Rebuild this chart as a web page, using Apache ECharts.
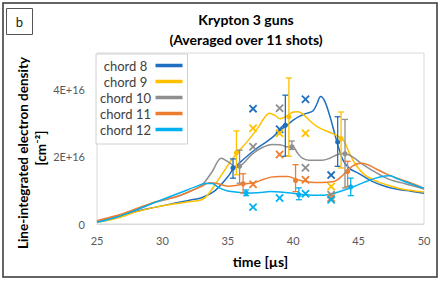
<!DOCTYPE html>
<html><head><meta charset="utf-8">
<script src="https://cdn.jsdelivr.net/npm/echarts@6/dist/echarts.min.js"></script>
<style>html,body{margin:0;padding:0;background:#fff}#c{width:443px;height:281px}</style>
</head><body><div id="c"></div>
<script>
// ---- data (values in units of 1E+16 cm^-2, time in µs) ----
const seriesNames = ['chord 8', 'chord 9', 'chord 10', 'chord 11', 'chord 12'];
const xTicks = [25, 30, 35, 40, 45, 50];
const yTicks = [0, 2, 4];

const chord8T = [25, 26.5, 28, 29.5, 31, 32, 33, 34, 35, 35.4, 36, 37, 38, 38.5, 39, 39.5, 40, 40.5, 41, 41.5, 41.8, 42.1, 42.4, 42.8, 43.3, 43.8, 44.3, 45, 46, 47, 48, 49, 50];
const chord8V = [0.07, 0.2, 0.38, 0.5, 0.62, 0.7, 0.78, 0.98, 1.4, 1.62, 1.85, 2.18, 2.45, 2.6, 2.78, 2.92, 3.08, 3.2, 3.28, 3.35, 3.55, 3.78, 3.65, 3.2, 2.5, 1.9, 1.65, 1.5, 1.27, 1.12, 1.03, 0.97, 0.91];

const chord9T = [25, 26.5, 28, 29.5, 31, 32, 33, 33.5, 34, 34.6, 35.2, 35.7, 36.5, 37.3, 37.8, 38.2, 38.6, 39, 39.5, 40, 40.4, 40.9, 41.5, 42, 43, 43.5, 43.9, 44.3, 44.8, 45.5, 46.5, 47.5, 48.5, 49.3, 50];
const chord9V = [0.05, 0.17, 0.36, 0.5, 0.6, 0.66, 0.72, 0.88, 1.15, 1.5, 1.85, 2.1, 2.45, 2.85, 3.15, 3.28, 3.22, 3.12, 3.2, 3.32, 3.33, 3.2, 2.98, 2.85, 2.68, 2.58, 2.45, 2.1, 1.75, 1.45, 1.25, 1.12, 1.02, 0.98, 0.95];

const chord10T = [25, 26.5, 28, 29.5, 31, 32, 33, 33.8, 34.5, 35, 35.7, 36.2, 36.8, 37.6, 38.4, 39, 39.6, 40, 40.3, 40.7, 41.2, 42.2, 42.8, 43.4, 43.9, 44.5, 45.2, 46, 46.8, 47.5, 48.3, 49, 50];
const chord10V = [0.08, 0.22, 0.42, 0.65, 0.8, 0.95, 1.15, 1.55, 1.95, 1.85, 1.69, 1.8, 2.05, 2.26, 2.36, 2.35, 2.28, 2.29, 2.12, 1.95, 1.89, 1.89, 1.95, 2.06, 2.09, 2.0, 1.8, 1.6, 1.42, 1.3, 1.22, 1.15, 1.04];

const chord11T = [25, 26.5, 28, 29.5, 31, 32, 33, 33.6, 34.2, 35, 35.6, 36.2, 37, 37.7, 38.3, 39, 39.6, 40.2, 40.8, 41.8, 42.6, 43.2, 43.8, 44.3, 44.8, 45.3, 45.8, 46.5, 47.2, 48, 48.8, 49.5, 50];
const chord11V = [0.1, 0.25, 0.45, 0.66, 0.8, 0.95, 1.12, 1.22, 1.2, 1.12, 1.14, 1.19, 1.22, 1.32, 1.39, 1.41, 1.41, 1.33, 1.27, 1.23, 1.24, 1.27, 1.45, 1.65, 1.77, 1.8, 1.74, 1.6, 1.47, 1.35, 1.25, 1.14, 1.05];

const chord12T = [25, 26.5, 28, 29.5, 30.5, 31.5, 32.5, 33.3, 33.8, 34.3, 35, 35.8, 36.5, 37.3, 38.3, 39, 39.8, 40.5, 41.5, 42.5, 43.2, 44, 44.7, 45.5, 46.3, 47, 47.4, 47.8, 48.5, 49.2, 50];
const chord12V = [0.05, 0.2, 0.42, 0.65, 0.8, 0.95, 1.1, 1.2, 1.2, 1.08, 0.98, 0.94, 0.92, 0.93, 0.96, 0.95, 0.92, 0.88, 0.85, 0.86, 0.92, 1.02, 1.12, 1.25, 1.36, 1.42, 1.43, 1.37, 1.26, 1.16, 1.06];

// error-bar points: time, value, low, high
const chord8ErrT = [35.4, 39.4, 43.4];
const chord8ErrV = [1.66, 2.93, 2.43];
const chord8ErrLo = [1.36, 2.01, 1.71];
const chord8ErrHi = [1.93, 3.82, 3.18];

const chord9ErrT = [35.66, 39.67, 43.66];
const chord9ErrV = [2.11, 3.18, 2.53];
const chord9ErrLo = [1.46, 2.01, 1.66];
const chord9ErrHi = [2.76, 4.33, 3.32];

const chord10ErrT = [35.9, 39.9, 43.96];
const chord10ErrV = [1.71, 2.29, 2.08];
const chord10ErrLo = [1.21, 2.21, 1.07];
const chord10ErrHi = [2.19, 2.46, 3.1];

const chord11ErrT = [36.17, 40.18, 44.16];
const chord11ErrV = [1.19, 1.29, 1.56];
const chord11ErrLo = [0.92, 0.96, 1.11];
const chord11ErrHi = [1.49, 1.76, 1.86];

const chord12ErrT = [36.4, 40.43, 44.4];
const chord12ErrV = [0.92, 0.87, 1.1];
const chord12ErrLo = [0.84, 0.72, 0.84];
const chord12ErrHi = [1.01, 1.07, 1.36];

// single-shot cross markers
const crossT = [36.93, 38.96, 40.94, 42.9];
const chord8X = [3.42, 2.81, 3.7, 1.45];
const chord9X = [2.84, 2.69, 2.69, 1.11];
const chord10X = [2.29, 3.43, 1.67, 0.87];
const chord11X = [1.18, 2.06, 1.31, 0.77];
const chord12X = [0.5, 0.77, 0.9, 0.72];

// ---- build ----
const colors = ['#1F6FC0', '#FFC000', '#8F8F8F', '#ED7D31', '#00B0F0'];
const lineT = [chord8T, chord9T, chord10T, chord11T, chord12T];
const lineV = [chord8V, chord9V, chord10V, chord11V, chord12V];
const errT = [chord8ErrT, chord9ErrT, chord10ErrT, chord11ErrT, chord12ErrT];
const errV = [chord8ErrV, chord9ErrV, chord10ErrV, chord11ErrV, chord12ErrV];
const errLo = [chord8ErrLo, chord9ErrLo, chord10ErrLo, chord11ErrLo, chord12ErrLo];
const errHi = [chord8ErrHi, chord9ErrHi, chord10ErrHi, chord11ErrHi, chord12ErrHi];
const crossV = [chord8X, chord9X, chord10X, chord11X, chord12X];

const FONT = 'Lato, "Open Sans", sans-serif';
const series = [];
seriesNames.forEach((name, k) => {
  series.push({
    name, type: 'line', smooth: 0.35, showSymbol: false, z: 2,
    lineStyle: { width: 1.5, color: colors[k] }, itemStyle: { color: colors[k] },
    data: lineT[k].map((t, i) => [t, lineV[k][i]])
  });
});
seriesNames.forEach((name, k) => {
  series.push({
    name, type: 'custom', z: 4, itemStyle: { color: colors[k] },
    data: errT[k].map((t, i) => [t, errV[k][i], errLo[k][i], errHi[k][i]]),
    renderItem: (params, api) => {
      const p = api.coord([api.value(0), api.value(1)]);
      const lo = api.coord([api.value(0), api.value(2)]);
      const hi = api.coord([api.value(0), api.value(3)]);
      const st = { stroke: colors[k], lineWidth: 1.3 };
      return { type: 'group', children: [
        { type: 'line', shape: { x1: lo[0], y1: lo[1], x2: hi[0], y2: hi[1] }, style: st },
        { type: 'line', shape: { x1: lo[0] - 3, y1: lo[1], x2: lo[0] + 3, y2: lo[1] }, style: st },
        { type: 'line', shape: { x1: hi[0] - 3, y1: hi[1], x2: hi[0] + 3, y2: hi[1] }, style: st },
        { type: 'circle', shape: { cx: p[0], cy: p[1], r: 2.6 }, style: { fill: colors[k] } }
      ]};
    }
  });
  series.push({
    name, type: 'custom', z: 3, itemStyle: { color: colors[k] },
    data: crossT.map((t, i) => [t, crossV[k][i]]),
    renderItem: (params, api) => {
      const p = api.coord([api.value(0), api.value(1)]);
      const d = 3.6;
      const st = { stroke: colors[k], lineWidth: 1.8 };
      return { type: 'group', children: [
        { type: 'line', shape: { x1: p[0] - d, y1: p[1] - d, x2: p[0] + d, y2: p[1] + d }, style: st },
        { type: 'line', shape: { x1: p[0] - d, y1: p[1] + d, x2: p[0] + d, y2: p[1] - d }, style: st }
      ]};
    }
  });
});

const chart = echarts.init(document.getElementById('c'), null, { renderer: 'svg' });
chart.setOption({
  animation: false,
  color: colors,
  textStyle: { fontFamily: FONT },
  grid: { left: 97, right: 19, top: 53, bottom: 57, show: true, borderColor: '#d9d9d9', borderWidth: 1, backgroundColor: '#fff' },
  xAxis: {
    type: 'value', min: xTicks[0], max: xTicks[xTicks.length - 1], interval: 5,
    name: 'time [µs]', nameLocation: 'middle', nameGap: 30,
    nameTextStyle: { fontFamily: FONT, fontWeight: 'bold', fontSize: 14, color: '#000' },
    axisLine: { show: true, lineStyle: { color: '#d9d9d9' } }, axisTick: { show: false }, splitLine: { show: false },
    axisLabel: { color: '#595959', fontSize: 11, margin: 11, fontFamily: FONT }
  },
  yAxis: {
    type: 'value', min: 0, max: 5.07, interval: 2,
    axisLine: { show: false }, axisTick: { show: false }, splitLine: { show: false },
    axisLabel: { color: '#595959', fontSize: 11, margin: 12, fontFamily: FONT,
      formatter: v => yTicks.includes(v) ? (v === 0 ? '0' : v + 'E+16') : '' }
  },
  legend: {
    data: seriesNames, orient: 'vertical', left: 96, top: 54, align: 'right',
    backgroundColor: '#fff', borderColor: '#d0d0d0', borderWidth: 1, borderRadius: 0,
    padding: [5, 5, 8, 4], itemGap: 3, itemWidth: 27, itemHeight: 3.5, icon: 'rect',
    formatter: '{a|{name}}',
    textStyle: { color: '#404040', fontFamily: FONT, fontSize: 13,
      rich: { a: { width: 50, align: 'center', fontSize: 13, lineHeight: 14, color: '#404040', fontFamily: FONT } } }
  },
  graphic: [
    { type: 'rect', z: 100, shape: { x: 3, y: 3, width: 434, height: 274 }, style: { fill: 'none', stroke: '#333', lineWidth: 1.5 } },
    { type: 'rect', z: 100, shape: { x: 6.5, y: 8.5, width: 26, height: 26 }, style: { fill: '#fff', stroke: '#555', lineWidth: 1 } },
    { type: 'text', z: 101, x: 19.5, y: 21.5, style: { text: 'b', fontSize: 13, fontFamily: FONT, fill: '#222', textAlign: 'center', textVerticalAlign: 'middle' } },
    { type: 'text', z: 101, x: 246, y: 19, style: { text: 'Krypton 3 guns', fontSize: 14, fontWeight: 'bold', fontFamily: FONT, fill: '#000', textAlign: 'center', textVerticalAlign: 'middle' } },
    { type: 'text', z: 101, x: 246, y: 39, style: { text: '(Averaged over 11 shots)', fontSize: 14, fontWeight: 'bold', fontFamily: FONT, fill: '#000', textAlign: 'center', textVerticalAlign: 'middle' } },
    { type: 'text', z: 101, x: 23, y: 153, rotation: Math.PI / 2, style: { text: 'Line-integrated electron density', fontSize: 13.5, fontWeight: 'bold', fontFamily: FONT, fill: '#000', textAlign: 'center', textVerticalAlign: 'middle' } },
    { type: 'text', z: 101, x: 41, y: 148, rotation: Math.PI / 2, style: { text: '[cm⁻²]', fontSize: 13.5, fontWeight: 'bold', fontFamily: FONT, fill: '#000', textAlign: 'center', textVerticalAlign: 'middle' } }
  ],
  series
});
</script></body></html>
